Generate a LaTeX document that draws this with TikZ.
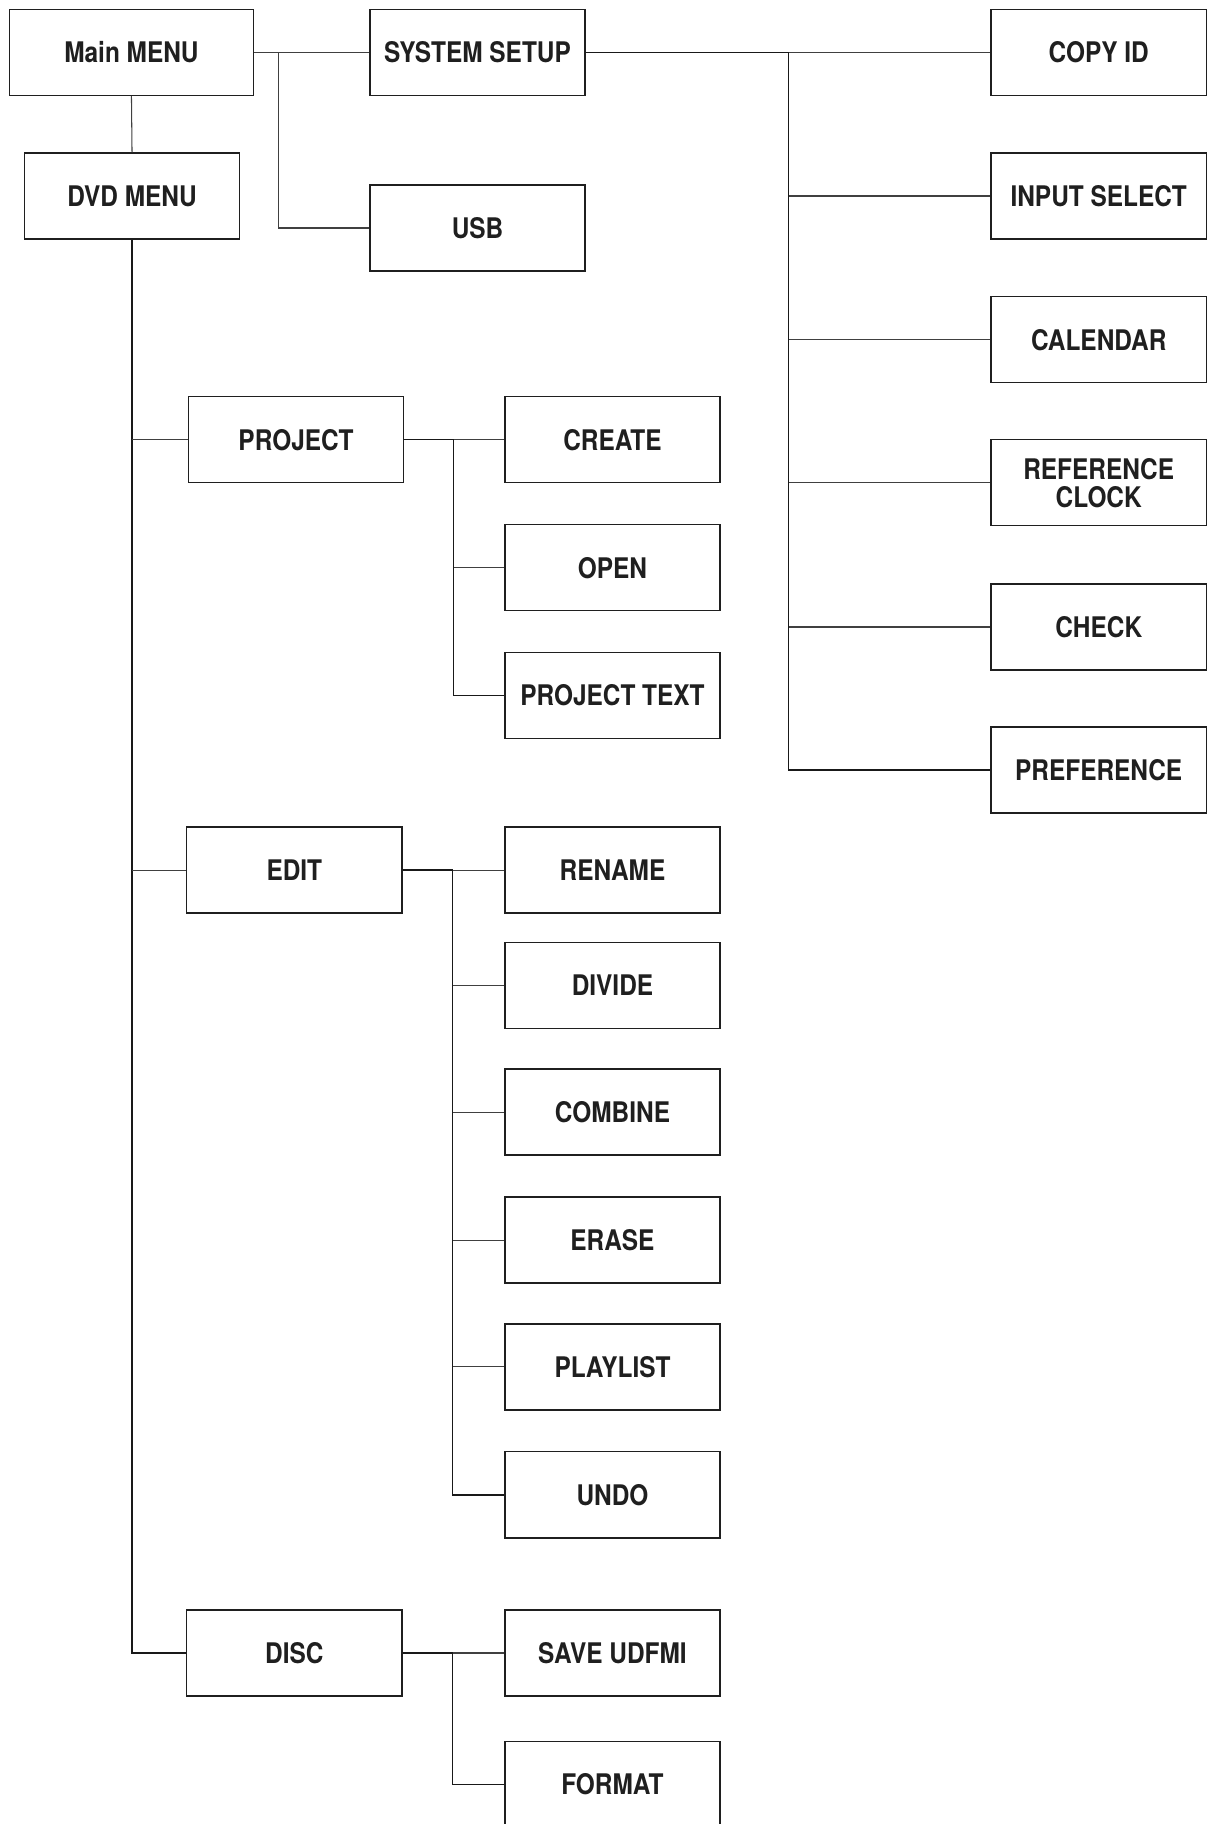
\documentclass[tikz,border=0pt]{standalone}
\usepackage{fontspec}
\setmainfont{TeX Gyre Heros}[FakeStretch=0.86]
\begin{document}
\begin{tikzpicture}[x=0.5pt,y=-0.5pt,
  box/.style={draw=black!88, line width=0.6pt, minimum width=92.5pt, minimum height=37pt,
    inner sep=0pt, align=center, font=\fontsize{12.2}{13.6}\selectfont\bfseries, text=black!88},
  wide/.style={box, minimum width=105pt},
  trunk/.style={draw=black!90, line width=0.6pt},
  twig/.style={draw=black!75, line width=0.45pt}]
\clip (0,0) rectangle (1038,1568);
\useasboundingbox (0,0) rectangle (1038,1568);
\fill[white] (0,0) rectangle (1038,1568);
% top level
\node[wide] (main) at (113,45) {Main MENU};
\node[box] (sys) at (410.5,45) {SYSTEM SETUP};
\node[box] (dvd) at (113.5,168.5) {DVD MENU};
\node[box] (usb) at (410.5,196) {USB};
% system setup children
\node[box] (copy) at (944.5,45) {COPY ID};
\node[box] (inp) at (944.5,168.5) {INPUT SELECT};
\node[box] (cal) at (944.5,292) {CALENDAR};
\node[box] (ref) at (944.5,415) {REFERENCE\\[-1.5pt]CLOCK};
\node[box] (chk) at (944.5,539) {CHECK};
\node[box] (pref) at (944.5,662) {PREFERENCE};
% DVD menu children
\node[box] (proj) at (254.5,378) {PROJECT};
\node[box] (edit) at (253,748) {EDIT};
\node[box] (disc) at (253,1421) {DISC};
% project children
\node[box] (create) at (526.5,378) {CREATE};
\node[box] (open) at (526.5,488) {OPEN};
\node[box] (ptext) at (526.5,598) {PROJECT TEXT};
% edit children
\node[box] (ren) at (526.5,748) {RENAME};
\node[box] (div) at (526.5,847) {DIVIDE};
\node[box] (comb) at (526.5,956) {COMBINE};
\node[box] (era) at (526.5,1066) {ERASE};
\node[box] (play) at (526.5,1175) {PLAYLIST};
\node[box] (undo) at (526.5,1285) {UNDO};
% disc children
\node[box] (save) at (526.5,1421) {SAVE UDFMI};
\node[box] (fmt) at (526.5,1534) {FORMAT};
% junctions
\coordinate (j1) at (239,45);
\coordinate (j2) at (678,45);
\coordinate (j3) at (390,378);
\coordinate (j4) at (389,748);
\coordinate (j5) at (389,1421);
% connectors: main
\draw[twig] (main.east) -- (sys.west);
\draw[twig] (j1) |- (usb.west);
\draw[twig] (main.south) -- (dvd.north);
% DVD trunk
\draw[trunk] (dvd.south) |- (disc.west);
\draw[twig] (dvd.south |- proj.west) -- (proj.west);
\draw[twig] (dvd.south |- edit.west) -- (edit.west);
% system setup
\draw[trunk] (sys.east) -- (j2);
\draw[twig] (j2) -- (copy.west);
\draw[trunk] (j2) |- (pref.west);
\draw[twig] (j2 |- inp.west) -- (inp.west);
\draw[twig] (j2 |- cal.west) -- (cal.west);
\draw[twig] (j2 |- ref.west) -- (ref.west);
\draw[twig] (j2 |- chk.west) -- (chk.west);
% project
\draw[trunk] (proj.east) -- (j3);
\draw[twig] (j3) -- (create.west);
\draw[trunk] (j3) |- (ptext.west);
\draw[twig] (j3 |- open.west) -- (open.west);
% edit
\draw[trunk] (edit.east) -- (j4);
\draw[twig] (j4) -- (ren.west);
\draw[trunk] (j4) |- (undo.west);
\draw[twig] (j4 |- div.west) -- (div.west);
\draw[twig] (j4 |- comb.west) -- (comb.west);
\draw[twig] (j4 |- era.west) -- (era.west);
\draw[twig] (j4 |- play.west) -- (play.west);
% disc
\draw[trunk] (disc.east) -- (j5);
\draw[twig] (j5) -- (save.west);
\draw[trunk] (j5) |- (fmt.west);
\end{tikzpicture}
\end{document}
